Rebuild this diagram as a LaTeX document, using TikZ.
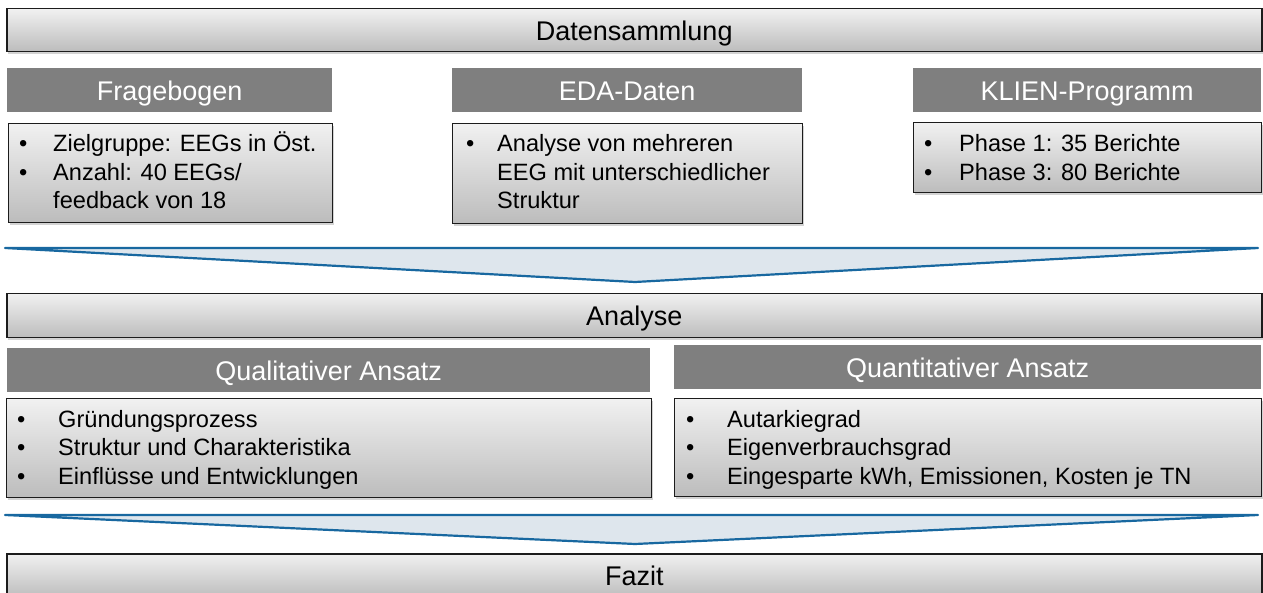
\documentclass[tikz,border=0pt]{standalone}
\usepackage{fontspec}
\setmainfont{Liberation Sans}
\usetikzlibrary{shadows}

\definecolor{barTop}{RGB}{241,241,241}
\definecolor{barBot}{RGB}{188,188,188}
\definecolor{headGray}{RGB}{127,127,127}
\definecolor{flowFill}{RGB}{222,230,237}
\definecolor{flowLine}{RGB}{24,104,160}
\definecolor{frameDark}{RGB}{28,28,28}

\tikzset{
  softshadow/.style={drop shadow={shadow xshift=1.2pt, shadow yshift=-2pt, opacity=0.35, fill=gray}},
  band/.style={draw=frameDark, line width=1.5pt, top color=barTop, bottom color=barBot,
    inner sep=0pt, anchor=north west, softshadow,
    font=\fontsize{27}{32}\selectfont, text height=20pt, text depth=0pt},
  head/.style={fill=headGray, inner sep=0pt, anchor=north west, text=white,
    font=\fontsize{27}{32}\selectfont, text height=20pt, text depth=0pt},
  listbox/.style={draw=frameDark, line width=1.2pt, top color=barTop, bottom color=barBot,
    inner sep=0pt, anchor=north west, softshadow},
  itemA/.style={inner sep=0pt, anchor=base west, font=\fontsize{23.6}{28}\selectfont},
  flow/.style={fill=flowFill, draw=flowLine, line width=2.2pt, line join=round},
}

% one bulleted line: name, style, bullet x, text x, baseline y, text
\newcommand\listline[6]{%
  \node[#2] (#1b) at (#3,#5) {\textbullet};
  \node[#2] (#1) at (#4,#5) {#6};}

\begin{document}
\begin{tikzpicture}[x=1pt, y=-1pt]
\useasboundingbox (0,0) rectangle (1263,593);

% --- data collection -------------------------------------------------
\node[band, minimum width=1255pt, minimum height=43pt] (daten) at (6,8) {Datensammlung};

\node[head, minimum width=325pt, minimum height=44pt] (fbHead) at (7,68) {Fragebogen};
\node[head, minimum width=350pt, minimum height=44pt] (edaHead) at (452,68) {EDA-Daten};
\node[head, minimum width=348pt, minimum height=44pt] (klienHead) at (913,68) {KLIEN-Programm};

\node[listbox, minimum width=324pt, minimum height=99pt] (fbBox) at (8,123) {};
\node[listbox, minimum width=350pt, minimum height=100pt] (edaBox) at (452,123) {};
\node[listbox, minimum width=348pt, minimum height=70pt] (klienBox) at (913,122) {};

\listline{fb1}{itemA}{19}{53}{152}{Zielgruppe: EEGs in Öst.}
\listline{fb2}{itemA}{19}{53}{180.5}{Anzahl: 40 EEGs/}
\node[itemA] (fb3) at (53,209) {feedback von 18};

\listline{eda1}{itemA}{466}{497}{152}{Analyse von mehreren}
\node[itemA] (eda2) at (497,180.5) {EEG mit unterschiedlicher};
\node[itemA] (eda3) at (497,209) {Struktur};

\listline{kl1}{itemA}{924}{959}{152}{Phase 1: 35 Berichte}
\listline{kl2}{itemA}{924}{959}{180.5}{Phase 3: 80 Berichte}

% --- funnel into the analysis ----------------------------------------
\coordinate (f1l) at (5,248);
\coordinate (f1r) at (1258,248);
\coordinate (f1t) at (635,282);
\draw[flow] (f1l) -- (f1r) -- (f1t) -- cycle;

% --- analysis ----------------------------------------------------------
\node[band, minimum width=1255pt, minimum height=44pt] (analyse) at (6,293) {Analyse};

\node[head, minimum width=643pt, minimum height=44pt] (qlHead) at (7,348) {Qualitativer Ansatz};
\node[head, minimum width=587pt, minimum height=44pt] (qnHead) at (674,345) {Quantitativer Ansatz};

\node[listbox, minimum width=645pt, minimum height=99pt] (qlBox) at (6,398) {};
\node[listbox, minimum width=587pt, minimum height=98pt] (qnBox) at (674,398) {};

\listline{ql1}{itemA}{17}{58}{427}{Gründungsprozess}
\listline{ql2}{itemA}{17}{58}{455.5}{Struktur und Charakteristika}
\listline{ql3}{itemA}{17}{58}{484}{Einflüsse und Entwicklungen}

\listline{qn1}{itemA}{686}{727}{427}{Autarkiegrad}
\listline{qn2}{itemA}{686}{727}{455.5}{Eigenverbrauchsgrad}
\listline{qn3}{itemA}{686}{727}{484}{Eingesparte kWh, Emissionen, Kosten je TN}

% --- funnel into the conclusion ----------------------------------------
\coordinate (f2l) at (5,515);
\coordinate (f2r) at (1258,515);
\coordinate (f2t) at (635,544);
\draw[flow] (f2l) -- (f2r) -- (f2t) -- cycle;

% --- conclusion ----------------------------------------------------------
\node[band, minimum width=1255pt, minimum height=44pt] (fazit) at (6,553) {Fazit};
\end{tikzpicture}
\end{document}
